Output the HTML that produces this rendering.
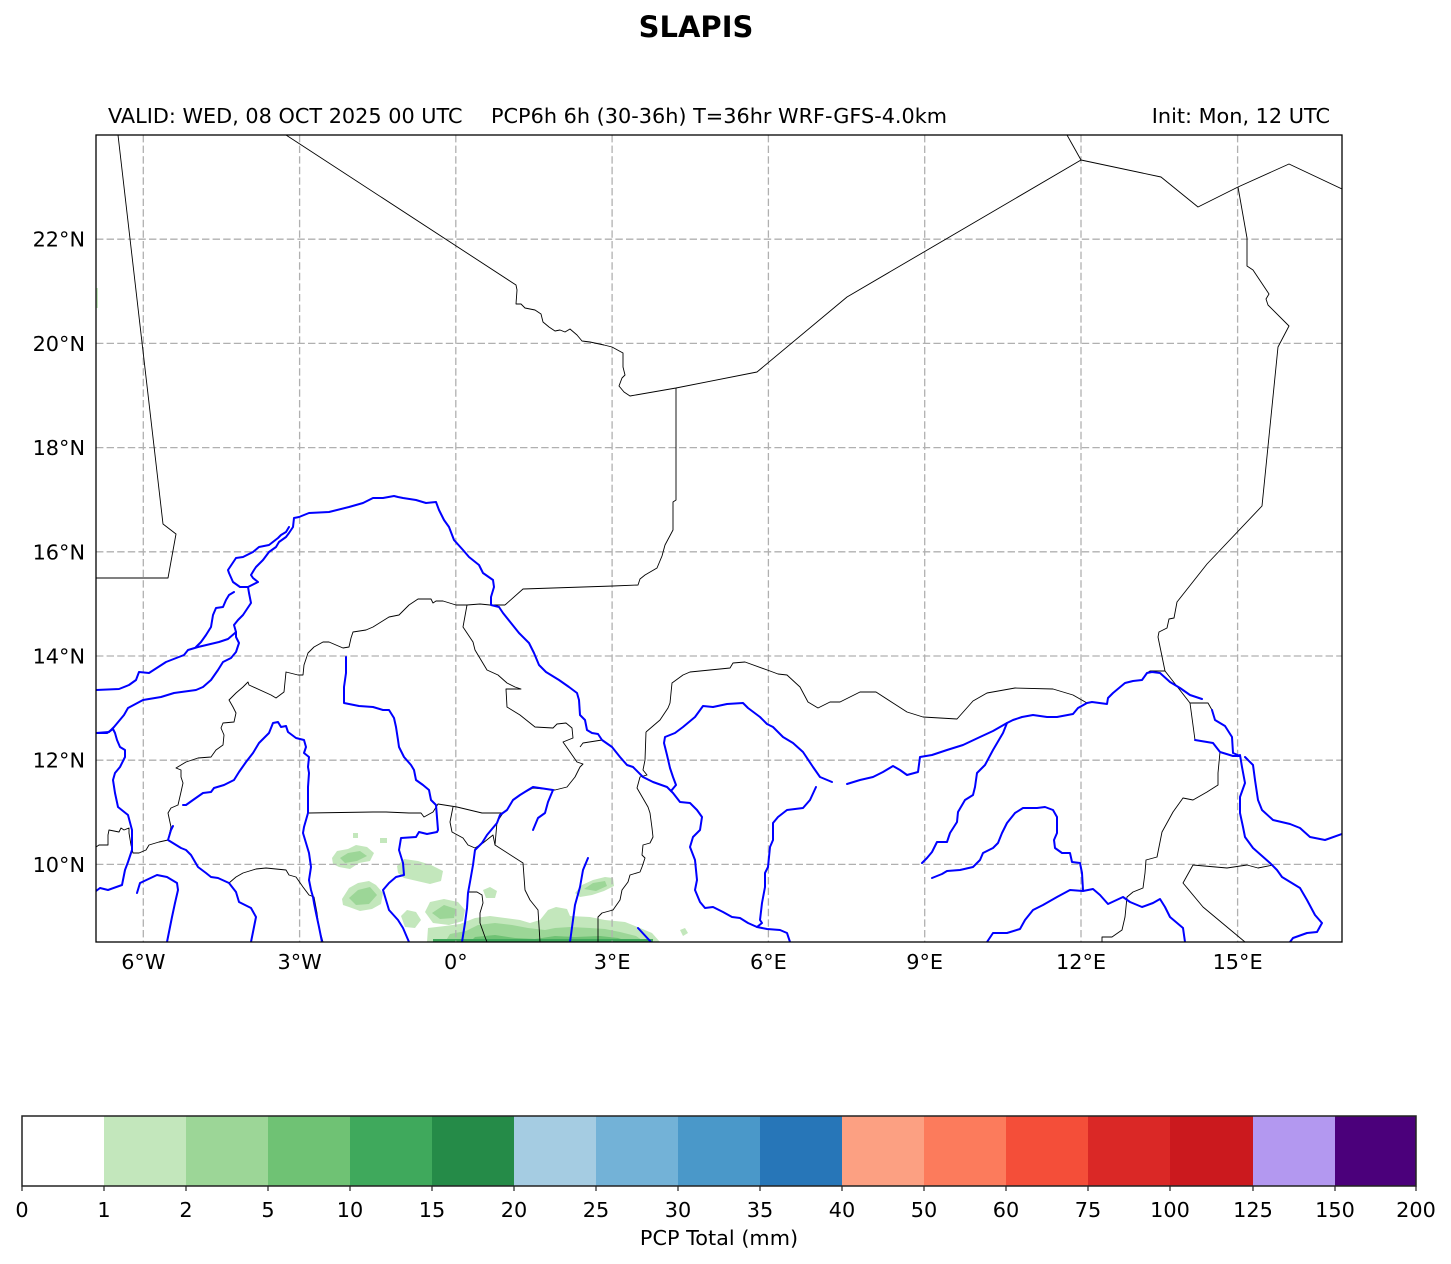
<!DOCTYPE html>
<html><head><meta charset="utf-8"><style>
html,body{margin:0;padding:0;background:#fff;}
svg{display:block;}
text{font-family:"DejaVu Sans","Liberation Sans",sans-serif;fill:#000;}
</style></head><body>
<svg width="1451" height="1264" viewBox="0 0 1451 1264" xmlns="http://www.w3.org/2000/svg">
<rect width="1451" height="1264" fill="#fff"/>
<text x="696" y="37" font-size="29" font-weight="bold" text-anchor="middle">SLAPIS</text>
<text x="108" y="123" font-size="20.8">VALID: WED, 08 OCT 2025 00 UTC</text>
<text x="491" y="123" font-size="20.8">PCP6h 6h (30-36h) T=36hr WRF-GFS-4.0km</text>
<text x="1330" y="123" font-size="20.8" text-anchor="end">Init: Mon, 12 UTC</text>
<defs><clipPath id="mc"><rect x="96" y="135" width="1246" height="807"/></clipPath></defs>
<g clip-path="url(#mc)">
<!-- precipitation -->
<g fill="#c3e7bc" stroke="none">
<polygon points="332,858 337,851 348,849 356,845 367,847 374,853 370,861 359,863 350,869 339,867 333,864"/>
<polygon points="353,833 358,833 358,838 353,838"/>
<polygon points="342,899 349,888 358,883 369,881 376,885 383,893 381,904 372,909 360,911 349,907 343,905"/>
<polygon points="397,866 404,859 418,861 431,865 443,871 441,881 430,884 417,881 404,878 398,873"/>
<polygon points="401,916 407,910 416,912 421,920 415,928 405,927"/>
<polygon points="425,912 430,902 444,899 458,902 465,910 463,921 449,925 433,923"/>
<polygon points="483,890 490,887 497,891 495,898 486,898"/>
<polygon points="427,942 428,928 445,926 460,924 475,918 490,916 505,918 520,920 530,923 540,920 548,910 556,907 567,909 570,916 590,917 605,920 625,922 640,928 652,933 660,942"/>
<polygon points="575,893 582,885 593,880 605,877 613,878 614,886 604,891 592,895 580,897"/>
<polygon points="680,930 685,928 688,933 683,936"/>
<polygon points="380,838 387,838 387,843 380,843"/>
<polygon points="96,288 98,288 98,308 96,308"/>
</g>
<g fill="#9cd697" stroke="none">
<polygon points="340,858 348,853 360,851 367,856 357,861 345,863"/>
<polygon points="349,898 358,890 370,887 377,895 369,904 356,905"/>
<polygon points="432,913 444,905 456,909 454,918 440,919"/>
<polygon points="445,942 450,934 466,931 478,925 495,923 512,925 528,928 545,930 555,928 570,927 590,928 605,929 620,932 636,936 645,942"/>
<polygon points="584,889 593,883 605,881 607,886 596,891"/>
</g>
<g fill="#6fc274" stroke="none">
<polygon points="470,942 475,937 495,935 515,938 535,939 555,936 575,937 600,936 618,938 630,942"/>
</g>
<rect x="433" y="939" width="220" height="3.5" fill="#3fa95c"/>
<!-- grid -->
<g stroke="#b0b0b0" stroke-width="1.3" stroke-dasharray="7.4,3.2" fill="none">
<line x1="143.3" y1="135" x2="143.3" y2="942"/>
<line x1="299.6" y1="135" x2="299.6" y2="942"/>
<line x1="455.8" y1="135" x2="455.8" y2="942"/>
<line x1="612.1" y1="135" x2="612.1" y2="942"/>
<line x1="768.4" y1="135" x2="768.4" y2="942"/>
<line x1="924.7" y1="135" x2="924.7" y2="942"/>
<line x1="1081" y1="135" x2="1081" y2="942"/>
<line x1="1237.6" y1="135" x2="1237.6" y2="942"/>
<line x1="96" y1="239.2" x2="1342" y2="239.2"/>
<line x1="96" y1="343.4" x2="1342" y2="343.4"/>
<line x1="96" y1="447.6" x2="1342" y2="447.6"/>
<line x1="96" y1="551.8" x2="1342" y2="551.8"/>
<line x1="96" y1="656" x2="1342" y2="656"/>
<line x1="96" y1="760.2" x2="1342" y2="760.2"/>
<line x1="96" y1="864.4" x2="1342" y2="864.4"/>
</g>
<!-- borders -->
<g stroke="#000" stroke-width="0.9" fill="none" stroke-linejoin="round">
<polyline points="118,135 163,524 176,534 168,578 96,578"/>
<polyline points="286,135 516,285 517,290 516,304 521,304 525,308 535,310 541,314 543,322 549,327 555,331 560,330 565,332 570,329 577,335 582,341 590,342 604,345 612,347 623,353 623,367 625,375 622,378 619,386 624,392 630,396 676,388 757,372 847,297 1081,160 1161,177 1198,207 1238,187 1289,164 1342,189"/>
<polyline points="1067,135 1081,160"/>
<polyline points="1238,187 1247,238 1247,266 1253,270 1269,294 1266,299 1268,305 1289,326 1278,347 1262,506 1207,564 1177,602 1174,618 1169,619 1167,628 1159,632 1158,637 1165,671"/>
<polyline points="676,388 676,500 673,502 673,530 665,545 662,556 657,568 645,575 640,579 638,585 613,586 523,589 505,605"/>
<polyline points="505,605 490,605 480,604 467,605 463,627 473,642 475,650 487,670 498,675 507,683 515,687 521,689 506,689 507,707 520,715 535,727 553,728 557,724 566,723 572,728 573,738 563,742 577,762 583,764 580,767 575,777 567,787 555,790 545,789 533,788 520,795 513,800 507,810 503,813"/>
<polyline points="467,605 456,605 443,601 436,601 433,603 431,599 418,599 409,605 399,615 389,617 373,627 366,630 353,632 351,638 349,647 343,648 329,642 323,642 314,647 308,653 304,665 303,675 298,675 286,672 284,692 276,698 271,695 249,685 248,682 243,687 236,693 229,700 233,707 236,713 234,722 223,723 221,728 224,735 223,745 216,750 211,757 198,758 186,762 176,768 181,770 181,777 183,783 181,792 178,805 171,808 168,813 171,827 168,840 159,842 149,845 146,850 139,853 133,853 131,845 129,833 129,828 124,830 121,828 119,832 109,830 108,835 108,845 99,845 96,847"/>
<polyline points="229,883 236,877 243,873 256,869 266,868 276,869 286,870 289,875 296,877 303,887 309,895 314,897 317,913 319,928 323,942"/>
<polyline points="309,813 373,812 386,812 409,813 421,813 424,817 433,812 438,804 457,807 482,813 503,813 497,822 495,845 523,863 525,890 530,900 538,910 540,942"/>
<polyline points="453,807 450,822 452,832 463,838 468,845 475,848 483,843 493,835 495,845"/>
<polyline points="468,892 477,892 482,895 483,903 480,913 480,923 485,937 487,942"/>
<polyline points="580,747 583,743 602,740"/>
<polyline points="646,732 660,720 668,708 670,703 672,683 683,675 690,672 710,670 730,668 733,663 745,662 770,671 778,674 787,675 800,687 808,702 818,708 830,702 840,702 860,692 876,692 893,703 907,712 923,717 957,719 973,701 987,693 1015,688 1053,689 1073,695 1087,703 1092,702 1107,704 1108,698 1113,693 1125,683 1133,681 1142,680 1147,673 1150,671 1165,671"/>
<polyline points="646,732 645,760 643,770 647,775 640,777 637,788 648,807 650,813 652,828 653,837 650,843 643,845 642,855 645,858 642,867 640,872 630,875 628,882 622,890 620,900 613,910 602,913 598,917 598,942"/>
<polyline points="1165,671 1190,703 1208,703 1212,710"/>
<polyline points="1190,703 1195,740 1213,743 1220,752 1218,773 1218,785 1207,792 1193,800 1183,798 1173,812 1162,832 1157,857 1146,860 1145,873 1143,888 1133,892 1127,897 1125,917 1122,930 1112,937 1102,937 1102,942"/>
<polyline points="1273,865 1258,868 1247,865 1227,868 1193,865 1183,883 1203,907 1227,927 1245,942"/>
</g>
<!-- rivers -->
<g stroke="#0000ff" stroke-width="2" fill="none" stroke-linejoin="round" stroke-linecap="round">
<polyline points="96,733 109,732 114,727 124,715 128,708 143,700 161,697 174,693 196,690 203,687 211,680 218,670 223,662 231,658 236,652 239,643 236,637 236,632 234,625 238,620 243,615 251,603 249,593 248,587 258,582 253,578 251,575 254,570 256,567 263,560 269,552 276,547 279,542 286,537 289,533 293,527 294,518 299,517 309,513 329,512 349,507 363,503 373,498 383,498 394,496 398,497 403,498 416,500 426,503 436,502 439,510 444,520 449,527 454,540 463,550 469,557 479,565 483,573 493,580 494,587 491,597 491,605 499,607 503,613 511,623 519,633 529,643 534,653 539,665 546,672 559,680 569,687 577,693 579,700 580,715 585,720 587,730 592,733 598,734 602,740 612,747 620,757 627,765 633,767 643,777 653,782 667,787 673,793 680,802 690,803 697,810 702,817 700,830 693,837 690,847 695,860 697,880 695,890 700,902 705,908 713,907 723,912 732,917 740,918 748,923 757,927 767,929 780,930 787,933 790,942"/>
<polyline points="248,587 240,587 233,582 229,573 228,570 236,558 243,557 253,552 259,547 269,545 278,538 281,535 286,532 289,527"/>
<polyline points="96,733 107,733 113,729 115,733 117,740 120,747 125,750 125,757 120,767 115,773 113,780 115,793 118,807 128,815 132,830 132,850 128,862 125,870 122,885 108,890 100,888 96,891"/>
<polyline points="96,690 119,689 129,685 136,680 139,672 149,673 166,662 184,655 188,650 198,647 219,642 228,639 235,633 236,632"/>
<polyline points="234,592 229,595 226,600 223,607 216,608 213,615 211,627 206,635 201,642 196,647"/>
<polyline points="346,657 346,673 344,687 344,703 359,706 373,707 383,710 389,710 394,718 396,727 398,740 399,747 404,757 411,765 414,770 416,780 423,785 429,790 431,800 436,805 438,830 437,832 427,834 419,832 416,837 401,838 399,850 403,863 404,875 396,877 389,883 383,890 386,900 389,910 398,920 403,928 409,942"/>
<polyline points="183,805 186,805 193,800 203,793 211,792 214,788 224,785 234,780 239,772 246,762 253,753 259,743 269,733 273,723 278,722 281,727 286,726 288,732 296,738 304,740 306,747 304,753 309,757 308,767 309,773 308,787 308,800 308,813 304,827 303,833 306,843 309,853 311,867 309,880 311,890 313,897 314,903 316,913 319,927 322,942"/>
<polyline points="173,826 171,830 168,840 181,848 186,850 191,855 198,867 206,873 211,877 218,878 229,883 236,892 239,902 251,908 256,917 254,927 251,942"/>
<polyline points="137,893 140,883 157,875 167,877 177,883 178,890 175,903 172,917 170,927 167,942"/>
<polyline points="553,790 533,787 528,790 520,795 513,800 507,810 500,815 497,823 487,835 482,843 475,850 473,865 470,882 468,893 467,908 465,923 462,942"/>
<polyline points="553,790 548,802 545,813 538,818 533,830"/>
<polyline points="588,858 583,870 580,887 575,905 573,920 570,942"/>
<polyline points="638,928 651,942"/>
<polyline points="671,791 676,785 673,777 670,768 667,755 664,743 665,737 675,733 683,727 695,717 703,706 713,707 727,704 743,703 748,708 760,717 767,724 773,727 783,737 793,743 803,752 813,767 820,777 832,782"/>
<polyline points="816,787 810,800 803,808 787,810 778,817 773,823 773,840 770,847 768,867 765,873 765,887 762,903 760,920 762,923 757,927"/>
<polyline points="847,784 860,780 873,777 883,772 893,766 900,770 907,775 918,772 920,757 932,755 947,750 963,745 980,737 993,731 1007,723 1013,720 1022,717 1033,715 1047,717 1057,717 1073,714 1078,708 1087,703 1092,702 1107,704 1108,698 1113,693 1125,683 1133,681 1142,680 1147,673 1152,672 1160,673 1170,682 1180,688 1190,695 1202,699"/>
<polyline points="1007,723 1003,733 993,750 985,765 977,773 975,787 973,795 965,800 958,812 957,822 950,833 947,842 937,842 932,852 927,858 922,863"/>
<polyline points="932,878 942,874 947,871 960,870 973,867 980,860 983,853 993,848 998,843 1002,833 1007,823 1015,813 1023,808 1037,808 1045,807 1053,810 1057,817 1057,833 1054,840 1055,848 1062,853 1070,853 1072,862 1080,863 1082,873 1083,890"/>
<polyline points="987,942 993,933 1007,933 1020,929 1025,920 1033,910 1043,905 1057,897 1070,890 1083,891 1093,889 1100,895 1108,904 1123,897 1130,902 1142,907 1153,903 1160,899 1165,907 1170,917 1183,928 1185,942"/>
<polyline points="1212,710 1215,720 1225,726 1232,737 1233,753 1240,756"/>
<polyline points="1195,740 1213,743 1220,752 1233,756 1240,756"/>
<polyline points="1240,755 1242,767 1245,783 1240,797 1240,813 1243,827 1245,837 1253,848 1270,863 1277,870 1282,877 1300,888 1307,900 1315,915 1322,923 1317,932 1307,933 1293,938 1290,942"/>
<polyline points="1245,757 1253,765 1255,780 1258,800 1262,810 1273,820 1290,824 1300,828 1310,837 1325,840 1342,834"/>
</g>
</g>
<rect x="96" y="135" width="1246" height="807" fill="none" stroke="#000" stroke-width="1.3"/>
<!-- axis labels -->
<g font-size="20.8" text-anchor="end">
<text x="85" y="246.7">22°N</text>
<text x="85" y="350.9">20°N</text>
<text x="85" y="455.1">18°N</text>
<text x="85" y="559.3">16°N</text>
<text x="85" y="663.5">14°N</text>
<text x="85" y="767.7">12°N</text>
<text x="85" y="871.9">10°N</text>
</g>
<g font-size="20.8" text-anchor="middle">
<text x="143.3" y="969">6°W</text>
<text x="299.6" y="969">3°W</text>
<text x="455.8" y="969">0°</text>
<text x="612.1" y="969">3°E</text>
<text x="768.4" y="969">6°E</text>
<text x="924.7" y="969">9°E</text>
<text x="1081" y="969">12°E</text>
<text x="1237.6" y="969">15°E</text>
</g>
<!-- colorbar -->
<g stroke="none">
<rect x="22" y="1116" width="82" height="70" fill="#ffffff"/>
<rect x="104" y="1116" width="82" height="70" fill="#c3e7bc"/>
<rect x="186" y="1116" width="82" height="70" fill="#9cd697"/>
<rect x="268" y="1116" width="82" height="70" fill="#6fc274"/>
<rect x="350" y="1116" width="82" height="70" fill="#3fa95c"/>
<rect x="432" y="1116" width="82" height="70" fill="#258b48"/>
<rect x="514" y="1116" width="82" height="70" fill="#a5cce2"/>
<rect x="596" y="1116" width="82" height="70" fill="#73b2d7"/>
<rect x="678" y="1116" width="82" height="70" fill="#4a98c9"/>
<rect x="760" y="1116" width="82" height="70" fill="#2776b8"/>
<rect x="842" y="1116" width="82" height="70" fill="#fca082"/>
<rect x="924" y="1116" width="82" height="70" fill="#fc7b5c"/>
<rect x="1006" y="1116" width="82" height="70" fill="#f44e39"/>
<rect x="1088" y="1116" width="82" height="70" fill="#da2826"/>
<rect x="1170" y="1116" width="83" height="70" fill="#cb191e"/>
<rect x="1253" y="1116" width="82" height="70" fill="#b398f0"/>
<rect x="1335" y="1116" width="81" height="70" fill="#4b007b"/>
</g>
<rect x="22" y="1116" width="1394" height="70" fill="none" stroke="#222" stroke-width="1.5"/>
<g stroke="#222" stroke-width="1.2">
<line x1="22" y1="1186" x2="22" y2="1191"/><line x1="104" y1="1186" x2="104" y2="1191"/><line x1="186" y1="1186" x2="186" y2="1191"/><line x1="268" y1="1186" x2="268" y2="1191"/><line x1="350" y1="1186" x2="350" y2="1191"/><line x1="432" y1="1186" x2="432" y2="1191"/><line x1="514" y1="1186" x2="514" y2="1191"/><line x1="596" y1="1186" x2="596" y2="1191"/><line x1="678" y1="1186" x2="678" y2="1191"/><line x1="760" y1="1186" x2="760" y2="1191"/><line x1="842" y1="1186" x2="842" y2="1191"/><line x1="924" y1="1186" x2="924" y2="1191"/><line x1="1006" y1="1186" x2="1006" y2="1191"/><line x1="1088" y1="1186" x2="1088" y2="1191"/><line x1="1170" y1="1186" x2="1170" y2="1191"/><line x1="1253" y1="1186" x2="1253" y2="1191"/><line x1="1335" y1="1186" x2="1335" y2="1191"/><line x1="1416" y1="1186" x2="1416" y2="1191"/>
</g>
<g font-size="20.8" text-anchor="middle">
<text x="22" y="1217">0</text><text x="104" y="1217">1</text><text x="186" y="1217">2</text><text x="268" y="1217">5</text><text x="350" y="1217">10</text><text x="432" y="1217">15</text><text x="514" y="1217">20</text><text x="596" y="1217">25</text><text x="678" y="1217">30</text><text x="760" y="1217">35</text><text x="842" y="1217">40</text><text x="924" y="1217">50</text><text x="1006" y="1217">60</text><text x="1088" y="1217">75</text><text x="1170" y="1217">100</text><text x="1253" y="1217">125</text><text x="1335" y="1217">150</text><text x="1416" y="1217">200</text>
<text x="719" y="1245">PCP Total (mm)</text>
</g>
</svg>
</body></html>
